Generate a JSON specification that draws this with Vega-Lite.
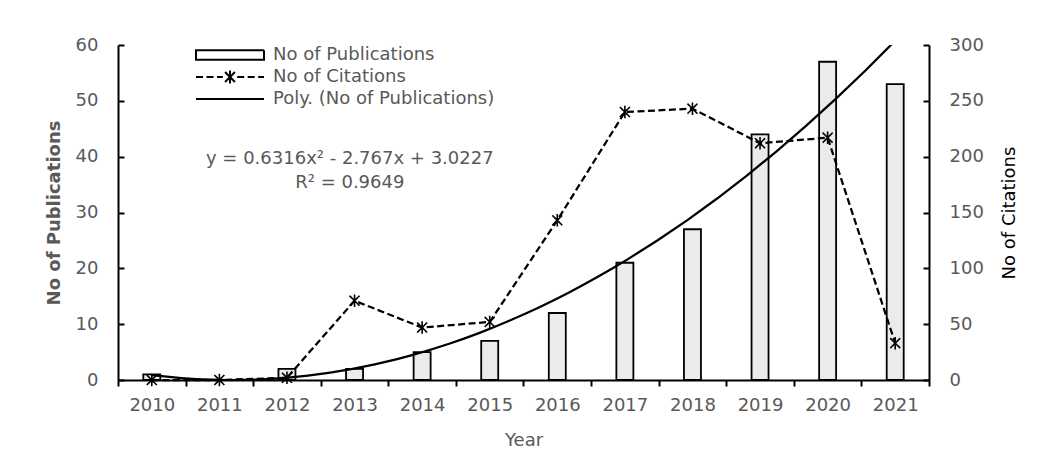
{
  "$schema": "https://vega.github.io/schema/vega-lite/v6.json",
  "width": 811,
  "height": 335,
  "autosize": {"type": "none"},
  "padding": {"left": 118, "top": 45, "right": 112, "bottom": 85},
  "background": "white",
  "config": {
    "view": {"stroke": null},
    "font": "DejaVu Sans",
    "axis": {
      "labelFont": "DejaVu Sans", "labelFontSize": 18, "labelColor": "#595959",
      "titleFont": "DejaVu Sans", "titleFontSize": 18, "titleColor": "#595959", "titleFontWeight": "normal",
      "domainColor": "black", "domainWidth": 2, "tickColor": "black", "tickWidth": 2, "grid": false
    }
  },
  "datasets": {
    "main": [
      {"year": 2010, "pubs": 1, "cites": 0},
      {"year": 2011, "pubs": 0, "cites": 0},
      {"year": 2012, "pubs": 2, "cites": 2},
      {"year": 2013, "pubs": 2, "cites": 71},
      {"year": 2014, "pubs": 5, "cites": 47},
      {"year": 2015, "pubs": 7, "cites": 52},
      {"year": 2016, "pubs": 12, "cites": 143},
      {"year": 2017, "pubs": 21, "cites": 240},
      {"year": 2018, "pubs": 27, "cites": 243},
      {"year": 2019, "pubs": 44, "cites": 212},
      {"year": 2020, "pubs": 57, "cites": 217},
      {"year": 2021, "pubs": 53, "cites": 33}
    ],
    "legend": [
      {"series": "No of Publications"},
      {"series": "No of Citations"},
      {"series": "Poly. (No of Publications)"}
    ],
    "note": [
      {"line1": "y = 0.6316x² - 2.767x + 3.0227", "line2": "R² = 0.9649"}
    ]
  },
  "data": {"name": "main"},
  "layer": [
    {
      "mark": {"type": "bar", "size": 17, "fill": "#ebebeb", "stroke": "black", "strokeWidth": 1.8},
      "encoding": {
        "x": {
          "field": "year", "type": "ordinal",
          "scale": {"type": "band", "paddingInner": 0, "paddingOuter": 0},
          "axis": {"title": "Year", "labelAngle": 0, "tickBand": "extent", "tickSize": 6, "labelPadding": 10,
                   "titleY": 60, "titleBaseline": "middle"}
        },
        "y": {
          "field": "pubs", "type": "quantitative",
          "scale": {"domain": [0, 60], "nice": false},
          "axis": {"title": "No of Publications", "values": [0, 10, 20, 30, 40, 50, 60], "tickSize": -6, "labelPadding": 26,
                   "titleFontWeight": "bold", "titleX": -64, "titleY": 167.5, "titleAlign": "center",
                   "titleBaseline": "middle", "titleAngle": 270}
        }
      }
    },
    {
      "mark": {"type": "line", "color": "black", "strokeWidth": 2.25, "strokeDash": [7, 3.5],
               "point": {"shape": "M-1,-1L1,1M-1,1L1,-1M0,-1.25V1.25", "size": 100, "filled": false,
                         "stroke": "black", "strokeWidth": 1.6, "strokeDash": [1, 0]}},
      "encoding": {
        "x": {"field": "year", "type": "ordinal",
              "scale": {"type": "band", "paddingInner": 0, "paddingOuter": 0}, "axis": null},
        "y": {
          "field": "cites", "type": "quantitative",
          "scale": {"domain": [0, 300], "nice": false},
          "axis": {"orient": "right", "title": "No of Citations", "values": [0, 50, 100, 150, 200, 250, 300],
                   "tickSize": -6, "labelPadding": 26, "titleColor": "black",
                   "titleX": 80, "titleY": 167.5, "titleAngle": 270, "titleAlign": "center", "titleBaseline": "middle"}
        }
      }
    },
    {
      "transform": [{"regression": "pubs", "on": "year", "method": "poly", "order": 2, "extent": [2010, 2021]}],
      "mark": {"type": "line", "color": "black", "strokeWidth": 2.25, "clip": true},
      "encoding": {
        "x": {"field": "year", "type": "quantitative",
              "scale": {"domain": [2009.5, 2021.5], "nice": false, "zero": false}, "axis": null},
        "y": {"field": "pubs", "type": "quantitative",
              "scale": {"domain": [0, 60], "nice": false}, "axis": null}
      }
    },
    {
      "data": {"name": "note"},
      "mark": {"type": "text", "font": "DejaVu Sans", "fontSize": 18, "color": "#595959",
               "align": "center", "baseline": "middle", "lineHeight": 24,
               "text": {"expr": "[datum.line1, datum.line2]"}},
      "encoding": {
        "x": {"datum": 2012.93, "type": "quantitative",
              "scale": {"domain": [2009.5, 2021.5], "nice": false, "zero": false}, "axis": null},
        "y": {"datum": 39.5, "type": "quantitative",
              "scale": {"domain": [0, 60], "nice": false}, "axis": null}
      }
    },
    {
      "data": {"name": "legend"},
      "mark": {"type": "point", "opacity": 0, "filled": false, "color": "black", "stroke": "black", "strokeWidth": 2},
      "encoding": {
        "shape": {
          "field": "series", "type": "nominal",
          "scale": {
            "domain": ["No of Publications", "No of Citations", "Poly. (No of Publications)"],
            "range": [
              "M-4.25,-0.6H4.25V0.6H-4.25Z",
              "M-4.25,0H-0.9M0.9,0H4.25M0,0L0.65,0.65M0,0L-0.65,-0.65M0,0L-0.65,0.65M0,0L0.65,-0.65M0,0V-0.8M0,0V0.8",
              "M-4.25,0H4.25"
            ]
          },
          "legend": {
            "orient": "none", "legendX": 103, "legendY": 1, "title": null,
            "symbolSize": 256, "symbolStrokeWidth": 2, "symbolStrokeColor": "black", "symbolOpacity": 1,
            "symbolFillColor": "#ebebeb",
            "labelFont": "DejaVu Sans", "labelFontSize": 18, "labelColor": "#595959", "labelLimit": 500,
            "labelOffset": 34, "rowPadding": 2, "padding": 0
          }
        },
        "strokeDash": {
          "field": "series", "type": "nominal",
          "scale": {
            "domain": ["No of Publications", "No of Citations", "Poly. (No of Publications)"],
            "range": [[1, 0], [7, 3.5], [1, 0]]
          }
        }
      }
    }
  ],
  "resolve": {"scale": {"x": "independent", "y": "independent"}}
}
